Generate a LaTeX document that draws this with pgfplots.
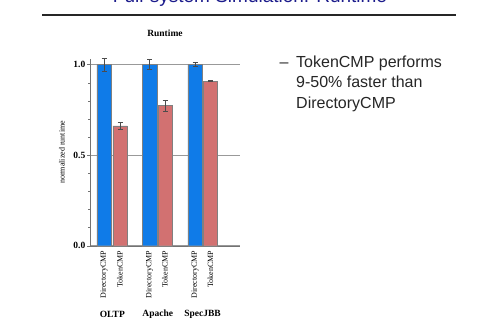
\documentclass[border=0pt]{standalone}
\usepackage{pgfplots}
\pgfplotsset{compat=1.18}
\usepackage{fontspec}
\setmainfont{Liberation Serif}
\newfontfamily\arial{Liberation Sans}
\definecolor{dirblue}{HTML}{0F7BE8}
\definecolor{tokred}{HTML}{D27171}
\definecolor{titleblue}{HTML}{1C1C8C}
\begin{document}
\begin{tikzpicture}[x=1pt,y=1pt]
\useasboundingbox (0,0) rectangle (500,330);
\clip (0,0) rectangle (500,330);
\fill[white] (0,0) rectangle (500,330);
% slide title and rule
\node[font=\arial\fontsize{19}{22}\selectfont, text=titleblue, anchor=base, inner sep=0pt] at (250,327.5) {Full-system Simulation: Runtime};
\draw[line width=2pt, black!85] (42,314.5) -- (456,314.5);
% bullet text
\begin{scope}[every node/.style={font=\arial\fontsize{16}{20}\selectfont, text=black!85, anchor=base west, inner sep=0pt}]
\node at (279.5,262) {\textendash};
\node at (296,262) {TokenCMP performs};
\node at (296,242.5) {9-50\% faster than};
\node at (296,222) {DirectoryCMP};
\end{scope}
\begin{axis}[
  at={(90pt,84.3pt)}, anchor=south west,
  scale only axis, width=150pt, height=186.6pt,
  xmin=90, xmax=240, ymin=0, ymax=1.03,
  axis lines=left, axis line style={-, black!55},
  clip=false,
  ytick={0,0.5,1}, yticklabels={0.0,0.5,1.0},
  minor y tick num=4,
  tick align=outside, tick pos=left,
  major tick length=3pt, minor tick length=2pt,
  y tick style={black!55},
  ymajorgrids, grid style={black!40, line width=0.6pt},
  xtick={104.2,120,149.7,165,195,210.3},
  xticklabels={DirectoryCMP,TokenCMP,DirectoryCMP,TokenCMP,DirectoryCMP,TokenCMP},
  x tick style={draw=none},
  xticklabel style={rotate=90, anchor=east, font=\fontsize{8}{9}\selectfont, inner sep=2pt},
  yticklabel style={font=\bfseries\fontsize{9.5}{11}\selectfont, inner sep=1.5pt},
  every axis y label/.style={at={(axis description cs:-0.187,0.5)}, rotate=90, anchor=center, font=\fontsize{8}{9}\selectfont},
  ylabel={normalized runtime},
  title={Runtime},
  every axis title/.style={at={(axis description cs:0.5,1)}, yshift=25.5pt, anchor=center, font=\bfseries\fontsize{9.5}{11}\selectfont},
  ybar, bar width=14.5, bar shift=0pt,
  error bars/y dir=both, error bars/y explicit,
  error bars/error bar style={black!70, line width=0.6pt},
  error bars/error mark options={rotate=90, mark size=2.5pt, black!70, line width=0.6pt},
]
\addplot[fill=dirblue, draw=black!50, line width=0.4pt] coordinates {
  (104.2,1.0) +- (0,0.035)
  (149.7,1.0) +- (0,0.028)
  (195,1.0) +- (0,0.012)
};
\addplot[fill=tokred, draw=black!50, line width=0.4pt] coordinates {
  (120,0.661) +- (0,0.018)
  (165,0.773) +- (0,0.03)
  (210.3,0.908) +- (0,0.003)
};
\node[font=\bfseries\fontsize{9.5}{11}\selectfont] at (axis cs:112.3,0) [yshift=-68.3pt] {OLTP};
\node[font=\bfseries\fontsize{9.5}{11}\selectfont] at (axis cs:157.7,0) [yshift=-68.3pt] {Apache};
\node[font=\bfseries\fontsize{9.5}{11}\selectfont] at (axis cs:202.5,0) [yshift=-68.3pt] {SpecJBB};
\end{axis}
\end{tikzpicture}
\end{document}
